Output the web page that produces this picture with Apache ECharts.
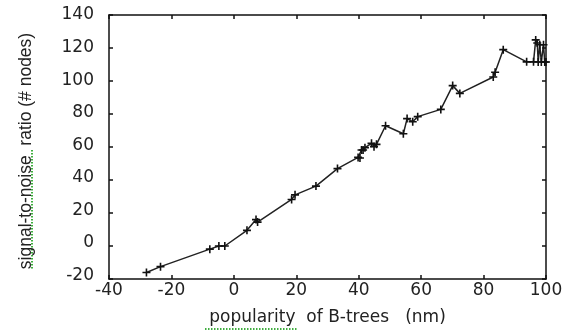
<!DOCTYPE html>
<html>
<head>
<meta charset="utf-8">
<script src="https://cdn.jsdelivr.net/npm/echarts@6/dist/echarts.min.js"></script>
<style>
  html, body { margin: 0; padding: 0; background: #fff; }
  #chart { width: 574px; height: 331px; }
</style>
</head>
<body>
<div id="chart"></div>
<script>
// popularity of B-trees (nm)
const xValues = [
  -28.0, -23.5, -7.7, -4.8, -2.9, 4.2, 7.1, 7.6, 18.5, 19.6,
  26.3, 33.2, 39.8, 40.4, 40.9, 41.4, 42.0, 44.1, 44.9, 45.7,
  48.6, 54.3, 55.5, 57.3, 58.9, 66.3, 70.1, 72.4, 83.1, 83.7,
  86.3, 93.8, 96.0, 96.7, 97.2, 97.5, 98.0, 98.5, 99.2, 99.6, 100
];
// signal-to-noise ratio (# nodes)
const yValues = [
  -16.1, -12.5, -1.9, 0.0, 0.0, 9.5, 16.0, 14.5, 28.2, 31.0,
  36.3, 46.9, 53.7, 53.3, 58.2, 58.2, 59.6, 62.2, 60.2, 61.6,
  72.9, 68.0, 77.2, 75.3, 78.4, 82.8, 97.2, 92.5, 102.4, 105.3,
  119.0, 111.6, 111.6, 124.9, 123.0, 111.5, 122.0, 111.5, 122.0, 111.5, 111.5
];
const xTicks = [-40, -20, 0, 20, 40, 60, 80, 100];
const yTicks = [-20, 0, 20, 40, 60, 80, 100, 120, 140];

const points = xValues.map((x, i) => [x, yValues[i]]);

// the y tick labels in the original creep upward relative to their ticks
const yLabelLift = { '-20': 6.5, '0': 6.5, '20': 5.5, '40': 4, '60': 3.5, '80': 3, '100': 1.5, '120': 0.5, '140': 0 };
const yRich = {};
yTicks.forEach((v, i) => {
  yRich['l' + i] = { padding: [0, 0, yLabelLift[v], 0] };
});

const chart = echarts.init(document.getElementById('chart'));

const tickFont = {
  color: '#222',
  fontFamily: 'DejaVu Sans, sans-serif',
  fontSize: 17
};
const axisLine = { show: true, onZero: false, lineStyle: { color: '#111', width: 1.5 } };
const axisTick = { show: true, inside: true, length: 4, lineStyle: { color: '#111', width: 1.5 } };
const squiggle = { stroke: '#3fae3f', lineWidth: 2, lineDash: [1.5, 1.5] };

const option = {
  animation: false,
  grid: { left: 109, right: 28, top: 15, bottom: 44 },
  xAxis: [
    {
      type: 'value',
      min: xTicks[0],
      max: xTicks[xTicks.length - 1],
      interval: 20,
      name: 'popularity  of B-trees   (nm)',
      nameLocation: 'middle',
      nameGap: 30,
      nameTextStyle: { color: '#222', fontFamily: 'DejaVu Sans, sans-serif', fontSize: 17 },
      axisLine: axisLine,
      axisTick: axisTick,
      axisLabel: Object.assign({ margin: 3 }, tickFont),
      splitLine: { show: false }
    },
    {
      type: 'value',
      position: 'top',
      min: xTicks[0],
      max: xTicks[xTicks.length - 1],
      interval: 20,
      axisLine: axisLine,
      axisTick: axisTick,
      axisLabel: { show: false },
      splitLine: { show: false }
    }
  ],
  yAxis: [
    {
      type: 'value',
      min: yTicks[0],
      max: yTicks[yTicks.length - 1],
      interval: 20,
      name: 'signal-to-noise  ratio (# nodes)',
      nameLocation: 'middle',
      nameRotate: 90,
      nameGap: 74,
      nameTextStyle: {
        color: '#222',
        fontFamily: 'Liberation Sans, Arial, sans-serif',
        fontSize: 17.5,
        padding: [0, 8, 0, 0]
      },
      axisLine: axisLine,
      axisTick: axisTick,
      axisLabel: Object.assign({
        margin: 15,
        formatter: (v) => '{l' + yTicks.indexOf(v) + '|' + v + '}',
        rich: yRich
      }, tickFont),
      splitLine: { show: false }
    },
    {
      type: 'value',
      position: 'right',
      min: yTicks[0],
      max: yTicks[yTicks.length - 1],
      interval: 20,
      axisLine: axisLine,
      axisTick: axisTick,
      axisLabel: { show: false },
      splitLine: { show: false }
    }
  ],
  // spell-checker underlines seen in the original screenshot
  graphic: [
    { type: 'line', shape: { x1: 205, y1: 329, x2: 297, y2: 329 }, style: squiggle, silent: true },
    { type: 'line', shape: { x1: 32, y1: 150, x2: 32, y2: 270 }, style: squiggle, silent: true }
  ],
  series: [
    {
      type: 'line',
      data: points,
      symbol: 'path://M4,0H6V4H10V6H6V10H4V6H0V4H4Z',
      symbolSize: 8,
      showAllSymbol: true,
      itemStyle: { color: '#111' },
      lineStyle: { color: '#222', width: 1.5 }
    }
  ]
};

chart.setOption(option);
</script>
</body>
</html>
